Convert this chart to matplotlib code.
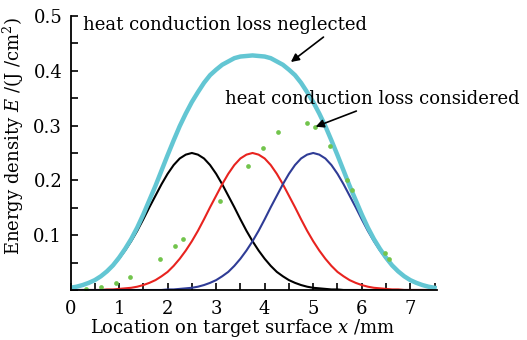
import matplotlib
matplotlib.use("Agg")
import matplotlib.pyplot as plt
from matplotlib.ticker import MultipleLocator

plt.rcParams["font.family"] = ["DejaVu Serif"]
plt.rcParams["mathtext.fontset"] = "dejavuserif"

# positions along the target surface (mm), 0 to 7.5 in steps of 0.125
x_mm = [0.0, 0.125, 0.25, 0.375, 0.5, 0.625, 0.75, 0.875, 1.0, 1.125,
        1.25, 1.375, 1.5, 1.625, 1.75, 1.875, 2.0, 2.125, 2.25, 2.375,
        2.5, 2.625, 2.75, 2.875, 3.0, 3.125, 3.25, 3.375, 3.5, 3.625,
        3.75, 3.875, 4.0, 4.125, 4.25, 4.375, 4.5, 4.625, 4.75, 4.875,
        5.0, 5.125, 5.25, 5.375, 5.5, 5.625, 5.75, 5.875, 6.0, 6.125,
        6.25, 6.375, 6.5, 6.625, 6.75, 6.875, 7.0, 7.125, 7.25, 7.375, 7.5]

pulse_1 = [0.004, 0.006, 0.009, 0.013, 0.018, 0.025, 0.033, 0.044, 0.057, 0.072,
           0.089, 0.108, 0.129, 0.151, 0.172, 0.193, 0.212, 0.228, 0.240, 0.247,
           0.250, 0.247, 0.240, 0.228, 0.212, 0.193, 0.172, 0.151, 0.129, 0.108,
           0.089, 0.072, 0.057, 0.044, 0.033, 0.025, 0.018, 0.013, 0.009, 0.006,
           0.004, 0.003, 0.002, 0.001, 0.001, 0.0, 0.0, 0.0, 0.0, 0.0,
           0.0, 0.0, 0.0, 0.0, 0.0, 0.0, 0.0, 0.0, 0.0, 0.0, 0.0]
pulse_2 = [0.0, 0.0, 0.0, 0.0, 0.0, 0.0, 0.001, 0.001, 0.002, 0.003,
           0.004, 0.006, 0.009, 0.013, 0.018, 0.025, 0.033, 0.044, 0.057, 0.072,
           0.089, 0.108, 0.129, 0.151, 0.172, 0.193, 0.212, 0.228, 0.240, 0.247,
           0.250, 0.247, 0.240, 0.228, 0.212, 0.193, 0.172, 0.151, 0.129, 0.108,
           0.089, 0.072, 0.057, 0.044, 0.033, 0.025, 0.018, 0.013, 0.009, 0.006,
           0.004, 0.003, 0.002, 0.001, 0.001, 0.0, 0.0, 0.0, 0.0, 0.0, 0.0]
pulse_3 = [0.0, 0.0, 0.0, 0.0, 0.0, 0.0, 0.0, 0.0, 0.0, 0.0,
           0.0, 0.0, 0.0, 0.0, 0.0, 0.0, 0.001, 0.001, 0.002, 0.003,
           0.004, 0.006, 0.009, 0.013, 0.018, 0.025, 0.033, 0.044, 0.057, 0.072,
           0.089, 0.108, 0.129, 0.151, 0.172, 0.193, 0.212, 0.228, 0.240, 0.247,
           0.250, 0.247, 0.240, 0.228, 0.212, 0.193, 0.172, 0.151, 0.129, 0.108,
           0.089, 0.072, 0.057, 0.044, 0.033, 0.025, 0.018, 0.013, 0.009, 0.006, 0.004]
neglected = [0.004, 0.006, 0.009, 0.013, 0.018, 0.025, 0.034, 0.045, 0.059, 0.075,
             0.093, 0.114, 0.138, 0.164, 0.190, 0.218, 0.246, 0.273, 0.299, 0.322,
             0.343, 0.361, 0.378, 0.392, 0.402, 0.411, 0.417, 0.423, 0.426, 0.427,
             0.428, 0.427, 0.426, 0.423, 0.417, 0.411, 0.402, 0.392, 0.378, 0.361,
             0.343, 0.322, 0.299, 0.273, 0.246, 0.218, 0.190, 0.164, 0.138, 0.114,
             0.093, 0.075, 0.059, 0.045, 0.034, 0.025, 0.018, 0.013, 0.009, 0.006, 0.004]

# heat conduction loss considered (dots)
considered_x = [0.31, 0.63, 0.93, 1.23, 1.84, 2.15, 2.31, 3.07, 3.66, 3.97,
                4.27, 4.88, 5.04, 5.35, 5.70, 5.80, 6.48, 6.57]
considered_y = [0.002, 0.006, 0.012, 0.023, 0.057, 0.080, 0.093, 0.162, 0.226, 0.260,
                0.288, 0.305, 0.298, 0.263, 0.201, 0.182, 0.067, 0.057]

fig = plt.figure(figsize=(5.27, 3.4), dpi=100)
ax = fig.add_axes([0.1338, 0.1471, 0.6954, 0.8059])

ax.plot(x_mm, pulse_1, color="black", lw=1.5)
ax.plot(x_mm, pulse_2, color="#e8231f", lw=1.5)
ax.plot(x_mm, pulse_3, color="#2f3c96", lw=1.5)
ax.plot(x_mm, neglected, color="#63c6d3", lw=3.2)
ax.plot(considered_x, considered_y, "o", color="#72c44c", ms=3.4, mec="none")

ax.annotate("heat conduction loss neglected", xy=(4.54, 0.416), xytext=(3.18, 0.483),
            ha="center", va="center", fontsize=13,
            arrowprops=dict(arrowstyle="-|>", color="black", lw=1.2,
                            mutation_scale=12, shrinkA=0, shrinkB=0,
                            relpos=(0.86, 0.0)))
ax.annotate("heat conduction loss considered", xy=(5.05, 0.298), xytext=(6.22, 0.348),
            ha="center", va="center", fontsize=13, annotation_clip=False,
            arrowprops=dict(arrowstyle="-|>", color="black", lw=1.2,
                            mutation_scale=12, shrinkA=0, shrinkB=0,
                            relpos=(0.47, 0.0)))

ax.set_xlim(0, 7.55)
ax.set_ylim(0, 0.5)
ax.xaxis.set_major_locator(MultipleLocator(1))
ax.xaxis.set_minor_locator(MultipleLocator(0.5))
ax.yaxis.set_minor_locator(MultipleLocator(0.05))
ax.set_yticks([0.1, 0.2, 0.3, 0.4, 0.5])
ax.tick_params(which="both", direction="in", length=5, width=1.2, labelsize=13)
ax.tick_params(axis="x", pad=7)
ax.tick_params(axis="y", pad=6)

for side in ("top", "right"):
    ax.spines[side].set_visible(False)
for side in ("left", "bottom"):
    ax.spines[side].set_linewidth(1.3)

ax.set_xlabel(r"Location on target surface $x$ /mm", fontsize=13)
ax.xaxis.set_label_coords(0.47, -0.1)
ax.set_ylabel(r"Energy density $E$ /(J /cm$^2$)", fontsize=13)
ax.yaxis.set_label_coords(-0.122, 0.56)

fig.savefig("out.png", dpi=100)
